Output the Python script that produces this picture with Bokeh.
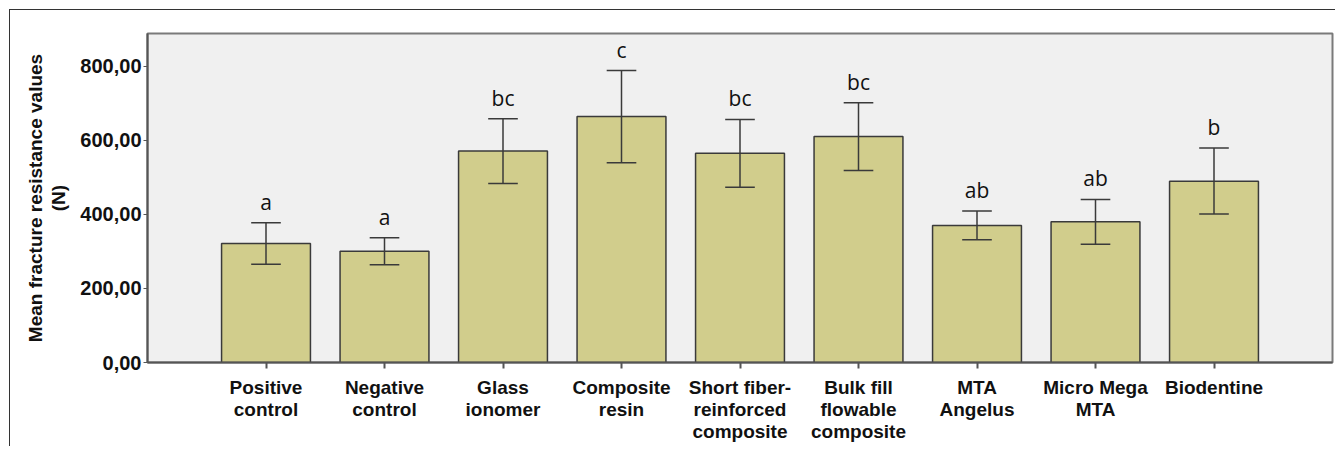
from bokeh.plotting import figure
from bokeh.models import ColumnDataSource, FixedTicker, Range1d, LabelSet
from bokeh.core.properties import value
from bokeh.embed import file_html
from bokeh.resources import INLINE

groups = ["Positive\ncontrol", "Negative\ncontrol", "Glass\nionomer", "Composite\nresin",
          "Short fiber-\nreinforced\ncomposite", "Bulk fill\nflowable\ncomposite",
          "MTA\nAngelus", "Micro Mega\nMTA", "Biodentine"]
means = [321, 300, 571, 664, 565, 610, 370, 380, 489]
err_hi = [377, 337, 658, 788, 656, 701, 409, 440, 579]
err_lo = [265, 264, 483, 539, 473, 518, 331, 319, 401]
letters = ["a", "a", "bc", "c", "bc", "bc", "ab", "ab", "b"]
y_ticks = [0, 200, 400, 600, 800]
y_tick_labels = ["0,00", "200,00", "400,00", "600,00", "800,00"]

xs = list(range(1, len(groups) + 1))
src = ColumnDataSource(dict(
    x=xs, top=means, hi=err_hi, lo=err_lo, lab=letters,
    capl=[x - 0.125 for x in xs], capr=[x + 0.125 for x in xs],
))

p = figure(width=1326, height=437, output_backend="svg", toolbar_location=None,
           x_range=Range1d(0, 10), y_range=Range1d(0, 888),
           min_border_left=137, min_border_right=4, min_border_top=23, min_border_bottom=85)
p.margin = (9, 0, 0, 9)
p.styles = {"border-top": "1px solid #333333", "border-left": "1px solid #333333"}

p.background_fill_color = "#f0f0f0"
p.border_fill_color = "white"
p.outline_line_color = "#7a7a7a"
p.outline_line_width = 2
p.xgrid.visible = False
p.ygrid.visible = False

p.vbar(x="x", top="top", width=0.75, bottom=0, source=src,
       fill_color="#d1cd8c", line_color="#3a3a3a", line_width=1.5)
p.segment(x0="x", y0="lo", x1="x", y1="hi", source=src, line_color="#3a3a3a", line_width=1.5)
p.segment(x0="capl", y0="hi", x1="capr", y1="hi", source=src, line_color="#3a3a3a", line_width=1.5)
p.segment(x0="capl", y0="lo", x1="capr", y1="lo", source=src, line_color="#3a3a3a", line_width=1.5)

labels = LabelSet(x="x", y="hi", text="lab", source=src, text_align="center",
                  text_baseline="bottom", y_offset=7, text_font=value("Open Sans"),
                  text_font_size="21px", text_color="#111111")
p.add_layout(labels)

p.xaxis.ticker = FixedTicker(ticks=xs)
p.xaxis.major_label_overrides = {x: g for x, g in zip(xs, groups)}
p.xaxis.major_label_text_font = "Liberation Sans"
p.xaxis.major_label_text_font_style = "bold"
p.xaxis.major_label_text_font_size = "19px"
p.xaxis.major_label_text_color = "#111111"
p.xaxis.major_label_text_line_height = 1.05
p.xaxis.major_label_standoff = 8
p.xaxis.major_tick_in = 0
p.xaxis.major_tick_out = 6
p.xaxis.minor_tick_line_color = None
p.xaxis.axis_line_color = "#555555"
p.xaxis.axis_line_width = 2
p.xaxis.major_tick_line_color = "#555555"
p.xaxis.major_tick_line_width = 2

p.yaxis.ticker = FixedTicker(ticks=y_ticks)
p.yaxis.major_label_overrides = {t: l for t, l in zip(y_ticks, y_tick_labels)}
p.yaxis.major_label_text_font = "Liberation Sans"
p.yaxis.major_label_text_font_style = "bold"
p.yaxis.major_label_text_font_size = "20px"
p.yaxis.major_label_text_color = "#111111"
p.yaxis.major_label_standoff = 2
p.yaxis.major_tick_in = 0
p.yaxis.major_tick_out = 4
p.yaxis.minor_tick_line_color = None
p.yaxis.axis_line_color = "#555555"
p.yaxis.axis_line_width = 2
p.yaxis.major_tick_line_color = "#555555"
p.yaxis.axis_label = "Mean fracture resistance values\n(N)"
p.yaxis.axis_label_text_font = "Liberation Sans"
p.yaxis.axis_label_text_font_style = "bold"
p.yaxis.axis_label_text_font_size = "19px"
p.yaxis.axis_label_text_color = "#111111"
p.yaxis.axis_label_standoff = 8
p.yaxis.axis_label_text_line_height = 1.1

open("out.html", "w").write(file_html(p, INLINE))
